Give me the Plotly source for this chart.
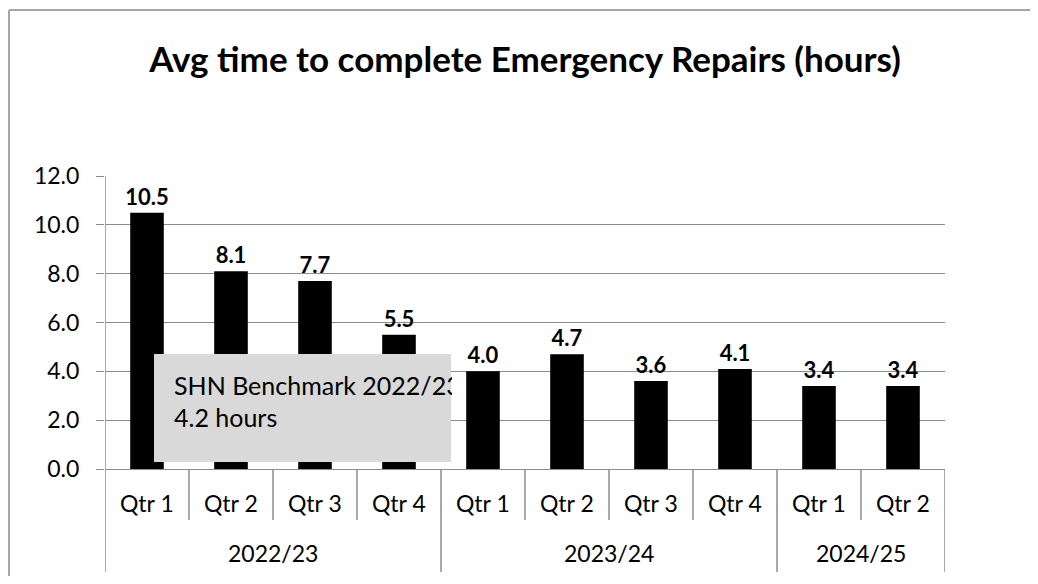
import plotly.graph_objects as go

years = ["2022/23"] * 4 + ["2023/24"] * 4 + ["2024/25"] * 2
quarters = ["Qtr 1", "Qtr 2", "Qtr 3", "Qtr 4", "Qtr 1", "Qtr 2", "Qtr 3", "Qtr 4", "Qtr 1", "Qtr 2"]
values = [10.5, 8.1, 7.7, 5.5, 4.0, 4.7, 3.6, 4.1, 3.4, 3.4]
title = "Avg time to complete Emergency Repairs (hours)"
note = "SHN Benchmark 2022/23<br>4.2 hours"

FONT = "Lato"
GRID = "#8c8c8c"

n = len(values)
xs = list(range(n))

fig = go.Figure()
fig.add_trace(go.Bar(
    x=xs,
    y=values,
    marker=dict(color="black", line=dict(width=0)),
    text=[f"{v:.1f}" for v in values],
    textposition="outside",
    constraintext="none",
    textfont=dict(family=FONT, size=22, color="black", weight="bold"),
    cliponaxis=False,
    width=0.4,
))

# page is rendered with an 8px body margin; work in reference-image coords
OFF = 8
W, H = 1038 - 2 * OFF, 584 - 2 * OFF
L_REF, R_REF, T_REF, B_REF = 105, 945, 176, 469
l, t = L_REF - OFF, T_REF - OFF
r, b = W - (R_REF - OFF), H - (B_REF - OFF)
pw, ph = W - l - r, H - t - b

def px(xp):
    return (xp - L_REF) / pw

def py(yp):
    return (B_REF - yp) / ph

fig.update_layout(
    width=W, height=H,
    margin=dict(l=l, r=r, t=t, b=b, autoexpand=False),
    paper_bgcolor="white",
    plot_bgcolor="white",
    showlegend=False,
    title=dict(text=f"<b>{title}</b>", x=0.5, xanchor="center", xref="paper",
               y=1 - (60 - OFF) / H, yanchor="middle",
               font=dict(family=FONT, size=35, color="black")),
    font=dict(family=FONT, size=23, color="black"),
    uniformtext=dict(mode=False),
)
fig.update_yaxes(
    range=[0, 12], dtick=2, tickformat=".1f",
    showgrid=True, gridcolor=GRID, gridwidth=1,
    showline=False,
    ticks="outside", ticklen=8, tickcolor=GRID,
    ticklabelstandoff=12,
    tickfont=dict(family=FONT, size=23, color="black"),
    zeroline=False, automargin=False,
)
fig.update_xaxes(
    range=[-0.5, n - 0.5],
    showline=True, linecolor=GRID, linewidth=1,
    showticklabels=False, ticks="", showgrid=False, zeroline=False,
    automargin=False,
)

# category labels and separators
y_q = py(503)
y_y = py(553)
for i, q in enumerate(quarters):
    fig.add_annotation(x=i, xref="x", y=y_q, yref="paper", text=q, showarrow=False,
                       xanchor="center", yanchor="middle",
                       font=dict(family=FONT, size=23, color="black"))

groups = []
for i, yv in enumerate(years):
    if not groups or groups[-1][0] != yv:
        groups.append([yv, i, i])
    else:
        groups[-1][2] = i
group_edges = set()
for name, s, e in groups:
    fig.add_annotation(x=(s + e) / 2, xref="x", y=y_y, yref="paper", text=name, showarrow=False,
                       xanchor="center", yanchor="middle",
                       font=dict(family=FONT, size=23, color="black"))
    group_edges.add(s - 0.5)
    group_edges.add(e + 0.5)

for k in range(n + 1):
    xb = k - 0.5
    y_end = py(572) if xb in group_edges else py(520)
    y_start = 1.0 if k == 0 else 0.0
    fig.add_shape(type="line", xref="x", yref="paper", x0=xb, x1=xb, y0=y_start, y1=y_end,
                  line=dict(color=GRID, width=1.5), layer="above")

# outer chart border (top and left edges visible in the frame)
BORDER = dict(color="#a6a6a6", width=2)
fig.add_shape(type="line", xref="paper", yref="paper",
              x0=px(OFF + 1), x1=px(1060), y0=py(10), y1=py(10), line=BORDER, layer="below")
fig.add_shape(type="line", xref="paper", yref="paper",
              x0=px(OFF + 1), x1=px(OFF + 1), y0=py(10), y1=py(600), line=BORDER, layer="below")

# benchmark text box
fig.add_shape(type="rect", xref="paper", yref="paper",
              x0=px(154), x1=px(451), y0=py(462), y1=py(354),
              line=dict(width=0), fillcolor="#d9d9d9", layer="above")
fig.add_annotation(xref="paper", yref="paper", x=px(173), y=py(401),
                   xanchor="left", yanchor="middle", align="left", showarrow=False,
                   width=278, height=90, borderpad=0,
                   text=note, font=dict(family=FONT, size=25, color="black"))

fig.write_html("out.html")
